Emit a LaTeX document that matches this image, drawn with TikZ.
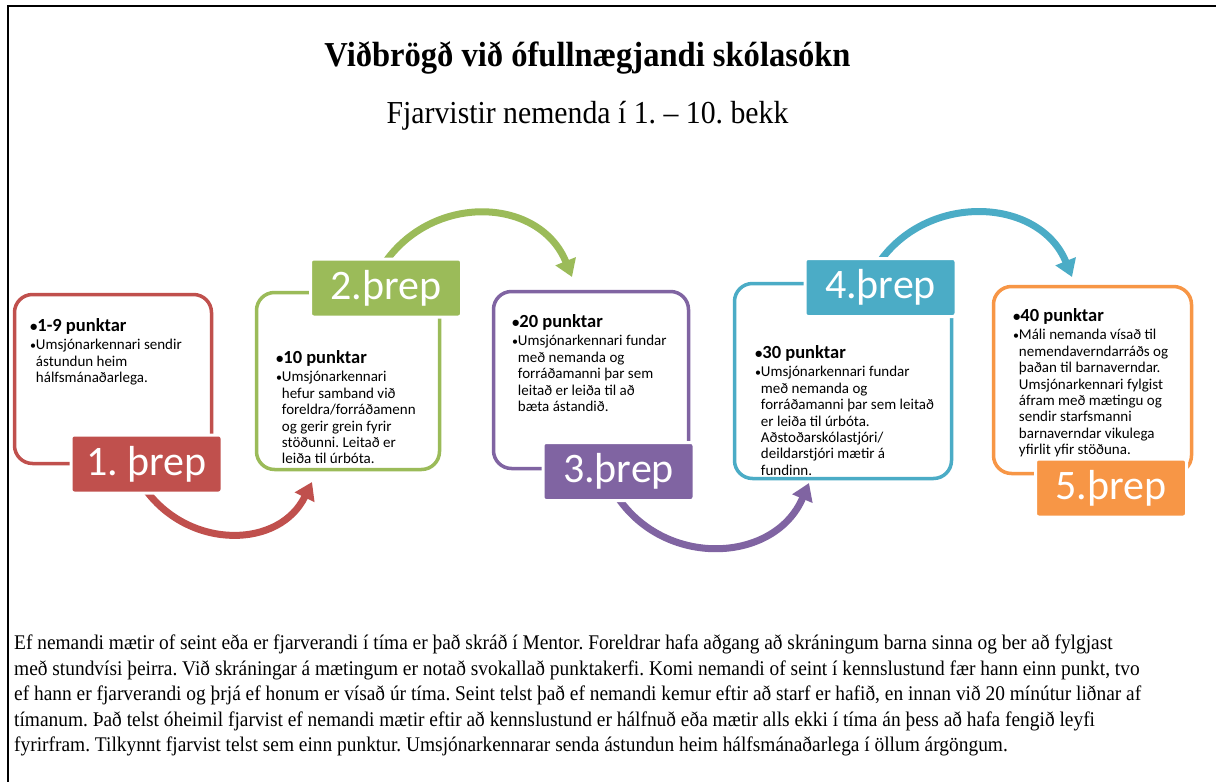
\documentclass[tikz,border=0pt]{standalone}
\usepackage{fontspec}
\setmainfont{Liberation Serif}[FakeStretch=0.93]
\newfontfamily\carl{Carlito}
\usetikzlibrary{arrows.meta,backgrounds}
\definecolor{cred}{HTML}{C0504D}
\definecolor{cgreen}{HTML}{9BBB59}
\definecolor{cpurple}{HTML}{8064A2}
\definecolor{cblue}{HTML}{4BACC6}
\definecolor{corange}{HTML}{F79646}
\newlength\bulw
\newcommand\sbul{{\scalebox{0.8}{•}}}
\newcommand\stxt[3]{\parbox[t]{#1}{\raggedright
  {\fontsize{18.5}{19}\selectfont\bfseries \sbul#2\par}\vspace{2.4pt}%
  \fontsize{15}{16.4}\selectfont\settowidth\bulw{\sbul}\hangindent\bulw\hangafter1 \noindent\sbul#3\par}}
\tikzset{
  stepbox/.style={draw=#1, line width=3.5pt, rounded corners=18pt, fill=white, inner sep=0pt, outer sep=0pt},
  steplabel/.style={fill=#1, draw=white, line width=3pt, rounded corners=3pt, minimum width=151pt, minimum height=58pt, inner sep=0pt, outer sep=0pt, text=white, font=\carl\fontsize{42}{42}\selectfont},
  boxtext/.style={anchor=base west, inner sep=0pt, outer sep=0pt, text=black, font=\carl},
  flow/.style={draw=#1, line width=7pt, -{Triangle[width=21pt,length=17pt]}},
}
\begin{document}
\frenchspacing
\begin{tikzpicture}[x=1pt,y=1pt]
\useasboundingbox (0,0) rectangle (1216,-782);
\begin{scope}[on background layer]
\fill[white] (0,0) rectangle (1216,-782);
\end{scope}
\draw[line width=2pt] (8,-782) -- (8,-6) -- (1216,-6);

\node[anchor=base, font=\bfseries\fontsize{35}{40}\selectfont] (title) at (587.5,-66) {Viðbrögð við ófullnægjandi skólasókn};
\node[anchor=base, font=\fontsize{32}{36}\selectfont] (subtitle) at (587.5,-123) {Fjarvistir nemenda í 1. – 10. bekk};

% boxes
\node[stepbox=cred, minimum width=197pt, minimum height=169pt] (b1) at (113,-379) {};
\node[stepbox=cgreen, minimum width=183pt, minimum height=177pt] (b2) at (348,-381) {};
\node[stepbox=cpurple, minimum width=195pt, minimum height=177pt] (b3) at (591,-380) {};
\node[stepbox=cblue, minimum width=217pt, minimum height=195pt] (b4) at (843,-381) {};
\node[stepbox=corange, minimum width=198pt, minimum height=187pt] (b5) at (1092.5,-380) {};

% labels
\node[steplabel=cred] (l1) at (146.5,-464) {1. þrep};
\node[steplabel=cgreen] (l2) at (386,-288) {2.þrep};
\node[steplabel=cpurple] (l3) at (618.5,-471.5) {3.þrep};
\node[steplabel=cblue] (l4) at (880.5,-287.5) {4.þrep};
\node[steplabel=corange] (l5) at (1111,-488) {5.þrep};

% texts
\node[boxtext] (t1x) at (30,-331) {\stxt{175pt}{1-9 punktar}{Umsjónarkennari sendir\newline ástundun heim\newline hálfsmánaðarlega.}};
\node[boxtext] (t2x) at (276,-363) {\stxt{170pt}{10 punktar}{Umsjónarkennari\newline hefur samband við\newline foreldra/forráðamenn\newline og gerir grein fyrir\newline stöðunni. Leitað er\newline leiða til úrbóta.}};
\node[boxtext] (t3x) at (512,-327) {\stxt{180pt}{20 punktar}{Umsjónarkennari fundar\newline með nemanda og\newline forráðamanni þar sem\newline leitað er leiða til að\newline bæta ástandið.}};
\node[boxtext] (t4x) at (755,-358) {\stxt{200pt}{30 punktar}{Umsjónarkennari fundar\newline með nemanda og\newline forráðamanni þar sem leitað\newline er leiða til úrbóta.\newline Aðstoðarskólastjóri/\newline deildarstjóri mætir á\newline fundinn.}};
\node[boxtext] (t5x) at (1013,-321) {\stxt{180pt}{40 punktar}{Máli nemanda vísað til\newline nemendaverndarráðs og\newline þaðan til barnaverndar.\newline Umsjónarkennari fylgist\newline áfram með mætingu og\newline sendir starfsmanni\newline barnaverndar vikulega\newline yfirlit yfir stöðuna.}};

% arrow targets
\coordinate (e1) at (312,-482);
\coordinate (e2) at (572,-277);
\coordinate (e3) at (809,-483);
\coordinate (e4) at (1072,-277);

\begin{scope}[on background layer]
\draw[flow=cred] ([yshift=2pt]l1.south) to[out=-53, in=244, distance=74pt] (e1);
\draw[flow=cgreen] ([yshift=-2pt]l2.north) to[out=54, in=112, distance=85pt] (e2);
\draw[flow=cpurple] ([yshift=2pt]l3.south) to[out=-55, in=247, distance=86pt] (e3);
\draw[flow=cblue] ([yshift=-2pt]l4.north) to[out=54, in=112, distance=85pt] (e4);
\end{scope}

\node[anchor=base west, inner sep=0pt] (para) at (14,-649.5) {\parbox[t]{1200pt}{\fontsize{20.85}{25.5}\selectfont
Ef nemandi mætir of seint eða er fjarverandi í tíma er það skráð í Mentor. Foreldrar hafa aðgang að skráningum barna sinna og ber að fylgjast\newline
með stundvísi þeirra. Við skráningar á mætingum er notað svokallað punktakerfi. Komi nemandi of seint í kennslustund fær hann einn punkt, tvo\newline
ef hann er fjarverandi og þrjá ef honum er vísað úr tíma. Seint telst það ef nemandi kemur eftir að starf er hafið, en innan við 20 mínútur liðnar af\newline
tímanum. Það telst óheimil fjarvist ef nemandi mætir eftir að kennslustund er hálfnuð eða mætir alls ekki í tíma án þess að hafa fengið leyfi\newline
fyrirfram. Tilkynnt fjarvist telst sem einn punktur. Umsjónarkennarar senda ástundun heim hálfsmánaðarlega í öllum árgöngum.}};
\end{tikzpicture}
\end{document}
